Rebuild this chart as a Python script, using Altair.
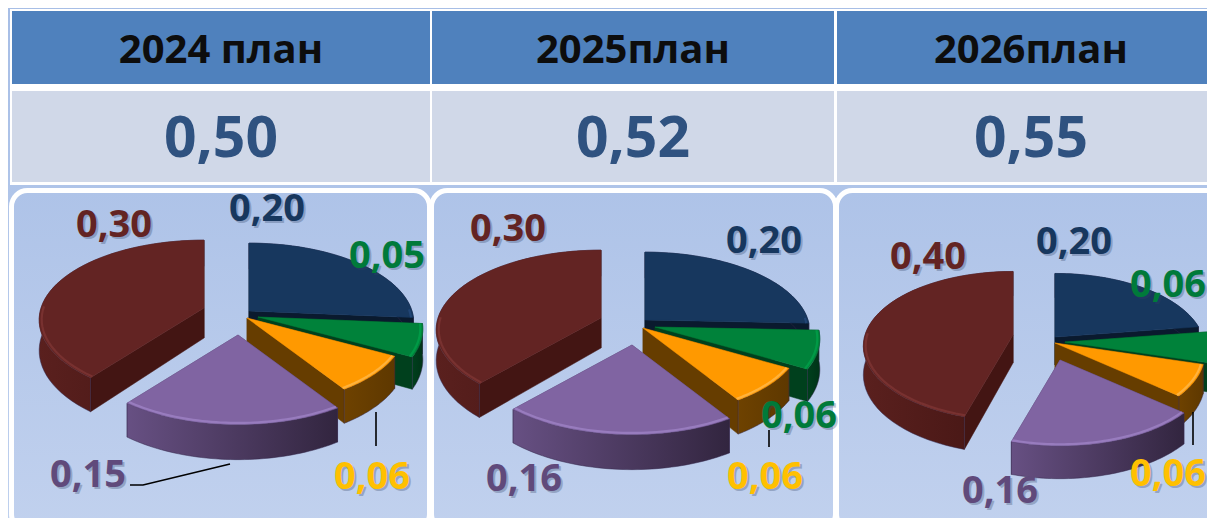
import math
import altair as alt
import pandas as pd

# ---- values
YEARS = ["2024 план", "2025план", "2026план"]
TOTALS = ["0,50", "0,52", "0,55"]
SLICE_NAMES = ["navy", "green", "orange", "purple", "red"]
PIE_2024 = [0.20, 0.05, 0.06, 0.15, 0.30]
PIE_2025 = [0.20, 0.06, 0.06, 0.16, 0.30]
PIE_2026 = [0.20, 0.06, 0.06, 0.16, 0.40]
PIES = [PIE_2024, PIE_2025, PIE_2026]

# ---- layout (reference pixels)
W, H = 1207, 518
COLS = [(12, 430), (432, 834), (837, 1225)]
PANELS = [(11.5, 429.5), (431.5, 835.5), (836.5, 1240)]
GEOM = [
    dict(R=163, Rk=78, D=30, shrink=dict(orange=0.96, purple=0.98), tips=dict(navy=(249, 311), green=(258, 317), orange=(247, 318), purple=(238, 335), red=(204, 308))),
    dict(R=163, Rk=78, D=30, shrink=dict(orange=0.96, purple=0.98), tips=dict(navy=(645, 320), green=(655, 327), orange=(643, 328), purple=(632, 345), red=(601, 318))),
    dict(R=148, Rk=73, D=28, shrink=dict(), tips=dict(navy=(1055, 337), green=(1065, 342), orange=(1055, 343), purple=(1060, 360), red=(1013, 335))),
]
LABEL_POS = [
    dict(navy=(267, 210), green=(387, 257), orange=(372, 478), purple=(88, 476), red=(114, 226)),
    dict(navy=(764, 242), green=(799, 417), orange=(765, 478), purple=(524, 480), red=(508, 230)),
    dict(navy=(1074, 243), green=(1168, 286), orange=(1168, 475), purple=(1000, 492), red=(928, 258)),
]
LEADERS = [
    [(376, 412), (376, 446)],
    [(230, 464), (143, 485), (130, 485)],
    [(769, 430), (769, 447)],
    [(1193, 412), (1193, 445)],
]
PERSP = 0.149

TOP = dict(navy="#17375e", green="#00823a", orange="#ff9900", purple="#8064a2", red="#632423")
SIDE = dict(navy="#0a1a2e", green="#00401d", orange="#663d00", purple="#4a3a63", red="#431513")
BEVEL = dict(navy="#24497a", green="#00a04a", orange="#ffb84a", purple="#9e82c6", red="#7d3533")
LABEL = dict(navy="#17375e", green="#007a3a", orange="#ffc000", purple="#604a7b", red="#632423")
RIM = dict(
    navy=["#0a1a2e", "#0a1a2e"],
    green=["#00401d", "#003318"],
    orange=["#6e4200", "#5e3800"],
    purple=["#675083", "#32253f"],
    red=["#5a201e", "#431513"],
)

xs = alt.Scale(domain=[8, W], nice=False, zero=False)
ys = alt.Scale(domain=[H, 8], nice=False, zero=False)


def X(f="x"):
    return alt.X(f"{f}:Q", scale=xs, axis=None)


def Y(f="y"):
    return alt.Y(f"{f}:Q", scale=ys, axis=None)


def box(x0, x1, y0, y1, **mark):
    d = pd.DataFrame({"x": [x0], "x2": [x1], "y": [y0], "y2": [y1]})
    return alt.Chart(d).mark_rect(clip=True, **mark).encode(
        x=X(), x2="x2:Q", y=Y(), y2="y2:Q"
    )


def vgrad(a, b):
    return alt.Gradient(gradient="linear", x1=0, y1=0, x2=0, y2=1,
                        stops=[alt.GradientStop(color=a, offset=0), alt.GradientStop(color=b, offset=1)])


def hgrad(a, b):
    return alt.Gradient(gradient="linear", x1=0, y1=0, x2=1, y2=0,
                        stops=[alt.GradientStop(color=a, offset=0), alt.GradientStop(color=b, offset=1)])


def poly(pts, fill):
    d = pd.DataFrame({"x": [p[0] for p in pts], "y": [p[1] for p in pts], "i": range(len(pts))})
    return alt.Chart(d).mark_line(interpolate="linear-closed", fill=fill, strokeWidth=0.5,
                                  stroke=fill if isinstance(fill, str) else "#33264a", clip=True).encode(
        x=X(), y=Y(), order=alt.Order("i:Q")
    )


def path(pts, color, width, opacity=1.0):
    d = pd.DataFrame({"x": [p[0] for p in pts], "y": [p[1] for p in pts], "i": range(len(pts))})
    return alt.Chart(d).mark_line(color=color, strokeWidth=width, opacity=opacity, clip=True).encode(
        x=X(), y=Y(), order=alt.Order("i:Q")
    )


def project(tip, g, theta, radius=1.0, down=0.0):
    u, v = math.sin(theta) * radius, math.cos(theta) * radius
    w = 1 / (1 + PERSP * v)
    return (tip[0] + g["R"] * u * w, tip[1] - g["Rk"] * v * w + g["D"] * w * down)


layers = [box(8, W, 8, H, fill=vgrad("#a7bee6", "#bed0ee"))]

# table
layers.append(box(10, W + 5, 9, 185, fill="#ffffff"))
for (a, b), year, total in zip(COLS, YEARS, TOTALS):
    layers.append(box(a, b, 11, 84, fill="#4f81bd"))
    layers.append(box(a, b, 91, 182, fill="#d0d8e8"))

# panels
for a, b in PANELS:
    layers.append(box(a, b, 190.5, 530, fill=vgrad("#aec3e8", "#c1d1ee"), stroke="#ffffff",
                      strokeWidth=5, cornerRadius=16))

# pies
for vals, g in zip(PIES, GEOM):
    total = sum(vals)
    starts = {}
    acc = 0.0
    for name, v in zip(SLICE_NAMES, vals):
        starts[name] = (acc / total * 2 * math.pi, (acc + v) / total * 2 * math.pi)
        acc += v
    for name in ["red", "navy", "green", "orange", "purple"]:
        a, b = starts[name]
        tip = g["tips"][name]
        s = g["shrink"].get(name, 1.0)
        n = 48
        th = [a + (b - a) * i / n for i in range(n + 1)]
        rim_top = [project(tip, g, t, radius=s) for t in th]
        rim_bot = [project(tip, g, t, radius=s, down=1) for t in th]
        c0 = project(tip, g, a, radius=0)
        c0b = (tip[0], tip[1] + g["D"])
        # radial walls
        layers.append(poly([c0, rim_top[0], rim_bot[0], c0b], SIDE[name]))
        layers.append(poly([c0, rim_top[-1], rim_bot[-1], c0b], SIDE[name]))
        # rim
        layers.append(poly(rim_top + rim_bot[::-1], hgrad(*RIM[name])))
        # top
        layers.append(poly([c0] + rim_top, TOP[name]))
        # bevel along the front edge
        front = [project(tip, g, t, radius=0.985 * s) for t in th if math.cos(t) < 0.05]
        if len(front) > 1:
            layers.append(path(front, BEVEL[name], 2.2, 0.8))

# leader lines
for seg in LEADERS:
    layers.append(path(seg, "#000000", 1.6))

# texts
rows = []
for pie, pos in zip(PIES, LABEL_POS):
    for name, v in zip(SLICE_NAMES, pie):
        rows.append(dict(t=f"{v:.2f}".replace(".", ","), x=pos[name][0], y=pos[name][1], c=LABEL[name]))
labels = pd.DataFrame(rows)
FONT = "Open Sans"
layers.append(alt.Chart(labels).mark_text(font=FONT, fontWeight="bold", fontSize=38, dx=2, dy=2,
                                          color="#334466", opacity=0.3, baseline="middle", clip=True).encode(
    x=X(), y=Y(), text="t:N"))
layers.append(alt.Chart(labels).mark_text(font=FONT, fontWeight="bold", fontSize=38, baseline="middle", clip=True).encode(
    x=X(), y=Y(), text="t:N", color=alt.Color("c:N", scale=None)))

head_x = [221, 633, 1031]
head = pd.DataFrame({"t": YEARS, "x": head_x, "y": [51] * 3})
vals_df = pd.DataFrame({"t": TOTALS, "x": head_x, "y": [140] * 3})
layers.append(alt.Chart(head).mark_text(font=FONT, fontWeight="bold", fontSize=40, color="#0d0d0d", baseline="middle").encode(
    x=X(), y=Y(), text="t:N"))
layers.append(alt.Chart(vals_df).mark_text(font=FONT, fontWeight="bold", fontSize=57, color="#2f5280", baseline="middle").encode(
    x=X(), y=Y(), text="t:N"))

chart = alt.layer(*layers).properties(
    width=W - 8, height=H - 8, padding=0, autosize=alt.AutoSizeParams(type="none")
).configure_view(stroke=None)

chart.save("out.html", embed_options={"renderer": "svg", "actions": False})
